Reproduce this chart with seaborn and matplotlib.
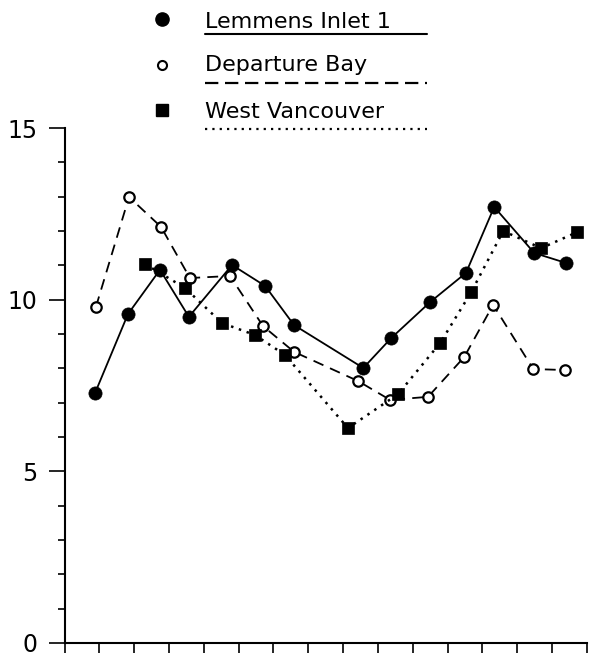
import matplotlib
matplotlib.use("Agg")
import matplotlib.pyplot as plt
from matplotlib.lines import Line2D
import seaborn as sns
import pandas as pd

# ---- data ----
series_names = ["Lemmens Inlet 1", "Departure Bay", "West Vancouver"]

lemmens_x = [0.87, 1.82, 2.74, 3.57, 4.81, 5.76, 6.59, 8.58, 9.38, 10.50, 11.53, 12.34, 13.49, 14.40]
lemmens_y = [7.27, 9.58, 10.87, 9.50, 11.01, 10.40, 9.26, 8.01, 8.88, 9.93, 10.78, 12.70, 11.36, 11.07]

departure_x = [0.90, 1.85, 2.77, 3.60, 4.75, 5.70, 6.59, 8.43, 9.35, 10.44, 11.48, 12.31, 13.46, 14.37]
departure_y = [9.79, 12.99, 12.12, 10.63, 10.69, 9.23, 8.48, 7.63, 7.08, 7.17, 8.33, 9.85, 7.98, 7.95]

westvan_x = [2.31, 3.46, 4.52, 5.47, 6.33, 8.14, 9.58, 10.79, 11.68, 12.60, 13.69, 14.73]
westvan_y = [11.04, 10.34, 9.32, 8.97, 8.39, 6.26, 7.25, 8.74, 10.22, 12.00, 11.50, 11.97]

y_major_ticks = [0, 5, 10, 15]
y_tick_labels = ["0", "5", "10", "15"]
x_ticks = list(range(0, 16))

# ---- figure ----
sns.set_theme(style="white")
plt.rcParams["font.family"] = ["DejaVu Sans"]
plt.rcParams["text.color"] = "black"

W, H = 589, 660
fig = plt.figure(figsize=(W / 100, H / 100), dpi=100)
ax = fig.add_axes([64.6 / W, 17 / H, 522.2 / W, 515 / H])

df_dep = pd.DataFrame({"x": departure_x, "y": departure_y})
df_lem = pd.DataFrame({"x": lemmens_x, "y": lemmens_y})
df_wv = pd.DataFrame({"x": westvan_x, "y": westvan_y})

sns.lineplot(data=df_dep, x="x", y="y", ax=ax, color="black", linewidth=1.3,
             linestyle=(0, (6, 4)), marker="o", markersize=7.5,
             markerfacecolor="white", markeredgecolor="black",
             markeredgewidth=1.6, zorder=3, clip_on=False)
sns.lineplot(data=df_lem, x="x", y="y", ax=ax, color="black", linewidth=1.3,
             marker="o", markersize=9.5, markerfacecolor="black",
             markeredgecolor="black", markeredgewidth=0.5, zorder=4, clip_on=False)
sns.lineplot(data=df_wv, x="x", y="y", ax=ax, color="black", linewidth=1.8,
             linestyle=(0, (1, 2.3)), marker="s", markersize=9,
             markerfacecolor="black", markeredgecolor="black",
             markeredgewidth=0.5, zorder=5, clip_on=False)

ax.set_xlim(0, 15)
ax.set_ylim(0, 15)
ax.set_xlabel("")
ax.set_ylabel("")

for s in ["top", "right"]:
    ax.spines[s].set_visible(False)
for s in ["left", "bottom"]:
    ax.spines[s].set_linewidth(1.5)
    ax.spines[s].set_color("black")

ax.set_xticks(x_ticks)
ax.set_xticklabels([])
ax.tick_params(axis="x", direction="out", length=7.5, width=1.2, color="black", bottom=True)

ax.set_yticks(y_major_ticks)
ax.set_yticklabels(y_tick_labels, fontsize=17)
ax.set_yticks([v for v in range(0, 16) if v % 5], minor=True)
ax.tick_params(axis="y", which="major", direction="out", length=11.5, width=1.2,
               color="black", labelcolor="black", pad=8, left=True)
ax.tick_params(axis="y", which="minor", direction="out", length=5, width=1.2,
               color="black", left=True)

# ---- custom legend (top, underlined labels) ----
def fx(px):
    return px / W

def fy(py):
    return 1 - py / H

legend_rows = [
    # name, marker y, text baseline y, underline y, marker style, underline style
    (series_names[0], 18.5, 27.5, 34, dict(marker="o", markersize=9.5, markerfacecolor="black",
                                           markeredgecolor="black"), "-"),
    (series_names[1], 65, 71, 82.5, dict(marker="o", markersize=6.5, markerfacecolor="white",
                                         markeredgecolor="black", markeredgewidth=1.5), (0, (6, 3))),
    (series_names[2], 110, 118, 129, dict(marker="s", markersize=8, markerfacecolor="black",
                                          markeredgecolor="black"), (0, (1, 2.3))),
]
for name, my, ty, uy, mk, ls in legend_rows:
    fig.add_artist(Line2D([fx(161.5)], [fy(my)], transform=fig.transFigure,
                          linestyle="none", **mk))
    fig.text(fx(205), fy(ty), name, fontsize=16, ha="left", va="baseline", color="black")
    fig.add_artist(Line2D([fx(205), fx(427)], [fy(uy), fy(uy)], transform=fig.transFigure,
                          color="black", linewidth=1.6 if ls != "-" else 1.5, linestyle=ls))

fig.savefig("out.png", dpi=100)
